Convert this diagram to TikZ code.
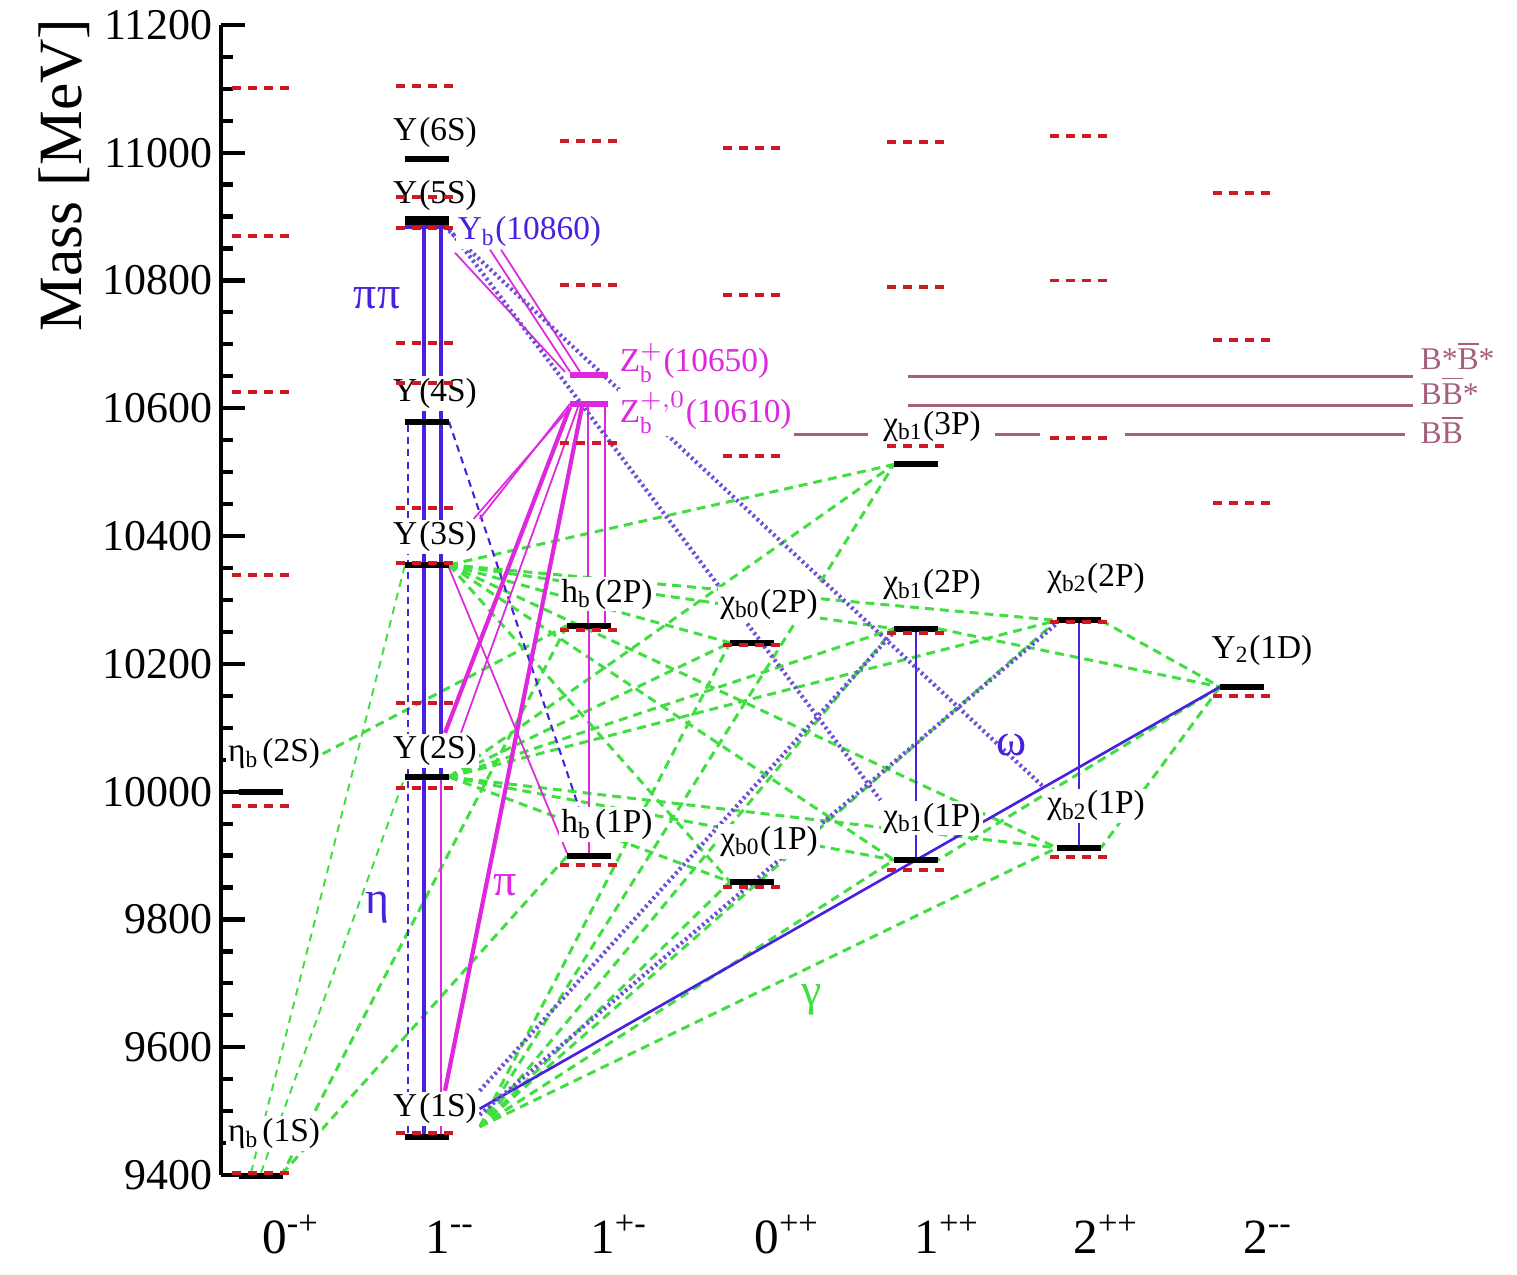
\documentclass[tikz,border=0pt]{standalone}
\usepackage{fontspec}
\setmainfont{Liberation Serif}
\usetikzlibrary{positioning, calc, backgrounds}
\definecolor{gamgreen}{RGB}{64,222,64}
\definecolor{ppblue}{RGB}{72,32,222}
\definecolor{pimag}{RGB}{222,40,222}
\definecolor{omviolet}{RGB}{108,78,215}
\definecolor{thrmauve}{RGB}{165,95,125}
\definecolor{theored}{RGB}{205,25,35}

\begin{document}
\begin{tikzpicture}[x=0.1mm, y=0.0639mm,
    expt/.style={fill=black, minimum width=4.4mm, minimum height=1.7pt, inner sep=0pt, outer sep=0pt},
    zbar/.style={fill=pimag, minimum width=3.8mm, minimum height=1.8pt, inner sep=0pt, outer sep=0pt},
    theo/.style={theored, line width=1.1pt, dash pattern=on 2.55pt off 2pt},
    lab/.style={font=\fontsize{9.5}{11}\selectfont, inner sep=0.6pt, fill=white},
    thrlab/.style={font=\fontsize{9}{10}\selectfont, text=thrmauve, inner sep=0pt, anchor=west},
    ticklab/.style={font=\fontsize{12.5}{14}\selectfont, anchor=east, inner sep=0pt},
    trlab/.style={font=\fontsize{13}{15}\selectfont, inner sep=0pt},
    axisline/.style={line width=1.2pt},
    gam/.style={gamgreen, line width=0.85pt, dash pattern=on 2.55pt off 1.7pt},
    gamthin/.style={gamgreen, line width=0.55pt, dash pattern=on 2.2pt off 1.8pt},
    pipi/.style={ppblue, line width=1.15pt},
    pipithin/.style={ppblue, line width=0.75pt},
    etadash/.style={ppblue, line width=0.6pt, dash pattern=on 2pt off 1.5pt},
    pion/.style={pimag, line width=0.5pt},
    pionthick/.style={pimag, line width=1.2pt},
    omdot/.style={omviolet, line width=1.2pt, dash pattern=on 0.7pt off 0.9pt},
    thr/.style={thrmauve, line width=0.9pt}]

    \useasboundingbox (0,9245) rectangle (1517,11239);

    \draw[axisline] (221,11200) -- (221,9400);
    \foreach \m in {9450,9500,...,11150}
        \draw[axisline] (221,\m) -- (233,\m);
    \foreach \m in {9400,9600,...,11200} {
        \draw[axisline] (221,\m) -- (245,\m);
        \node[ticklab] (tick\m) at (213,\m) {\m};
    }
    \node[rotate=90, font=\fontsize{17.5}{20}\selectfont] (ylab) at (64,10965) {Mass [MeV]};

    \foreach \x/\t [count=\i] in {291/0\textsuperscript{-+}, 450/1\textsuperscript{-{}-}, 619/1\textsuperscript{+-},
        787/0\textsuperscript{++}, 947/1\textsuperscript{++}, 1106/2\textsuperscript{++}, 1268/2\textsuperscript{-{}-}}
        \node[anchor=base, font=\fontsize{14}{16}\selectfont] (jpc\i) at (\x,9278) {\t};

    \node[expt] (etab1S) at (261,9399) {};
    \node[expt] (etab2S) at (261,9999) {};
    \node[expt] (U1S) at (427,9460) {};
    \node[expt] (U2S) at (427,10023) {};
    \node[expt] (U3S) at (427,10355) {};
    \node[expt] (U4S) at (427,10579) {};
    \node[expt, minimum height=2.6pt] (U5S) at (427,10893) {};
    \node[expt] (U6S) at (427,10990) {};
    \node[expt, fill=ppblue, minimum height=1.2pt] (Yb) at (427,10884) {};
    \node[expt] (hb1P) at (589,9899) {};
    \node[expt] (hb2P) at (589,10260) {};
    \node[expt] (chib01P) at (752,9859) {};
    \node[expt] (chib02P) at (752,10233) {};
    \node[expt] (chib11P) at (916,9893) {};
    \node[expt] (chib12P) at (916,10255) {};
    \node[expt] (chib13P) at (916,10512) {};
    \node[expt] (chib21P) at (1079,9912) {};
    \node[expt] (chib22P) at (1079,10268) {};
    \node[expt] (U1D) at (1242,10164) {};
    \node[zbar] (Zb10650) at (589,10652) {};
    \node[zbar] (Zb10610) at (589,10607) {};

    \node[lab, above=6pt of etab1S, xshift=1.3mm] (letab1S) {η$_{\mathrm{b}}$\kern1pt(1S)};
    \node[lab, above=5pt of etab2S, xshift=1.3mm] (letab2S) {η$_{\mathrm{b}}$\kern1pt(2S)};
    \node[lab, above=2pt of U1S, xshift=0.8mm] (lU1S) {Υ\kern0.6pt(1S)};
    \node[lab, above=1.5pt of U2S, xshift=0.8mm] (lU2S) {Υ\kern0.6pt(2S)};
    \node[lab, above=2pt of U3S, xshift=0.8mm] (lU3S) {Υ\kern0.6pt(3S)};
    \node[lab, above=2pt of U4S, xshift=0.8mm] (lU4S) {Υ\kern0.6pt(4S)};
    \node[lab, above=1pt of U5S, xshift=0.8mm] (lU5S) {Υ\kern0.6pt(5S)};
    \node[lab, above=1.5pt of U6S, xshift=0.8mm] (lU6S) {Υ\kern0.6pt(6S)};
    \node[lab, text=ppblue, right=0.6mm of Yb, yshift=-0.5mm] (lYb) {Υ$_{\mathrm{b}}$(10860)};
    \node[lab, above=3pt of hb1P, xshift=1.8mm] (lhb1P) {h$_{\mathrm{b}}$\kern1pt(1P)};
    \node[lab, above=3pt of hb2P, xshift=1.8mm] (lhb2P) {h$_{\mathrm{b}}$\kern1pt(2P)};
    \node[lab, above=5.5pt of chib01P, xshift=1.7mm] (lchib01P) {χ$_{\mathrm{b0}}$(1P)};
    \node[lab, above=5pt of chib02P, xshift=1.7mm] (lchib02P) {χ$_{\mathrm{b0}}$(2P)};
    \node[lab, above=6pt of chib11P, xshift=1.6mm] (lchib11P) {χ$_{\mathrm{b1}}$(1P)};
    \node[lab, above=6.5pt of chib12P, xshift=1.6mm] (lchib12P) {χ$_{\mathrm{b1}}$(2P)};
    \node[lab, above=5pt of chib13P, xshift=1.6mm] (lchib13P) {χ$_{\mathrm{b1}}$(3P)};
    \node[lab, above=6pt of chib21P, xshift=1.7mm] (lchib21P) {χ$_{\mathrm{b2}}$(1P)};
    \node[lab, above=6pt of chib22P, xshift=1.7mm] (lchib22P) {χ$_{\mathrm{b2}}$(2P)};
    \node[lab, above=4.5pt of U1D, xshift=2mm] (lU1D) {Υ$_{\mathrm{2}}$(1D)};
    \node[lab, text=pimag, right=0.9mm of Zb10650, yshift=1.2mm] (lZb10650) {Z$_{\mathrm{b}}^{+}$(10650)};
    \node[lab, text=pimag, right=0.9mm of Zb10610, yshift=-0.9mm] (lZb10610) {Z$_{\mathrm{b}}^{+,0}$(10610)};

    \foreach \x/\m in {261/11101, 261/10869, 261/10625, 261/10339, 261/9977, 261/9403,
        425/11104, 425/10930, 425/10882, 425/10702, 425/10639, 425/10444, 425/10358, 425/10139, 425/10006, 425/9466,
        589/11018, 589/10793, 589/10546, 589/10253, 589/9885,
        752/11007, 752/10777, 752/10525, 752/10229, 752/9851,
        916/11017, 916/10790, 916/10541, 916/10248, 916/9877,
        1079/11026, 1079/10800, 1079/10553, 1079/10265, 1079/9898,
        1242/10937, 1242/10707, 1242/10452, 1242/10150}
        \draw[theo] (\x-29,\m) -- (\x+29,\m);

    \node[thrlab] (lBsBs) at (1420,10682) {B*$\overline{\mathrm{B}}$*};
    \node[thrlab] (lBBs) at (1420,10628) {B$\overline{\mathrm{B}}$*};
    \node[thrlab] (lBB) at (1420,10566) {B$\overline{\mathrm{B}}$};

    \node[trlab, text=ppblue] (lpipi) at (377,10772) {ππ};
    \node[trlab, text=ppblue] (leta) at (377,9818) {η};
    \node[trlab, text=pimag] (lpi) at (505,9854) {π};
    \node[trlab, text=ppblue] (lomega) at (1012,10073) {ω};
    \node[trlab, text=gamgreen] (lgamma) at (812,9674) {γ};

    \begin{scope}[on background layer]
        \draw[thr] (753,10559) -- (868,10559);
        \draw[thr] (995,10559) -- (1040,10559);
        \draw[thr] (1125,10559) -- (1405,10559);
        \draw[thr] (908,10604) -- (1413,10604);
        \draw[thr] (908,10650) -- (1413,10650);

        \foreach \a/\b in {lU1S.south east/chib01P.west, lU1S.south east/chib11P.west, lU1S.south east/chib21P.west,
            lU1S.south east/chib02P.west, lU1S.south east/chib12P.west, lU1S.south east/chib22P.west,
            lU1S.south east/chib13P.west,
            U2S.east/chib01P.west, U2S.east/chib11P.west, U2S.east/chib21P.west,
            U2S.east/chib02P.west, U2S.east/chib12P.west, U2S.east/chib22P.west, U2S.east/chib13P.west,
            U3S.east/chib01P.west, U3S.east/chib11P.west, U3S.east/chib21P.west,
            U3S.east/chib02P.west, U3S.east/chib12P.west, U3S.east/chib22P.west, U3S.east/chib13P.west,
            chib12P.east/U1D.west, chib22P.east/U1D.west, U1D.west/chib11P.east, U1D.west/chib21P.east,
            hb1P.west/etab1S.north east, hb2P.west/etab1S.north east, letab2S.east/hb2P.west}
            \draw[gam] (\a) -- (\b);
        \draw[gamthin] (etab1S.north) -- (U2S.west);
        \draw[gamthin] ([xshift=-1mm]etab1S.north) -- (U3S.west);

        \draw[pipi] ([xshift=-0.3mm]U5S.south) -- ([xshift=-0.3mm]U1S.north);
        \draw[pipi] ([xshift=1.4mm]U5S.south) -- ([xshift=1.4mm]U2S.north);
        \draw[pion] ([xshift=1.4mm]U2S.south) -- ([xshift=1.4mm]U1S.north);
        \draw[etadash] ([xshift=-1.9mm]U4S.south) -- ([xshift=-1.9mm]U1S.north);
        \draw[etadash] (U4S.east) -- ([xshift=2mm]lhb1P.north west);
        \draw[pipithin] (lU1S.east) -- (U1D.west);
        \draw[pipithin] (chib12P.south) -- (chib11P.north);
        \draw[pipithin] (chib22P.south) -- (chib21P.north);

        \draw[pion] (Zb10610.west) -- (lU3S.north east);
        \draw[pion] ([yshift=-0.4mm]Zb10610.west) -- ([xshift=-0.6mm]lU3S.north east);
        \draw[pionthick] (Zb10610.south west) -- ([xshift=1mm]lU2S.north);
        \draw[pion] ([xshift=0.8mm]Zb10610.south west) -- ([xshift=2.6mm]lU2S.north);
        \draw[pionthick] ([xshift=1.2mm]Zb10610.south west) -- ([xshift=1mm]lU1S.north);
        \draw[pion] ([xshift=-0.1mm]Zb10610.south) -- ([xshift=-0.1mm]hb2P.north);
        \draw[pion] ([xshift=1.6mm]Zb10610.south) -- ([xshift=1.6mm]hb2P.north);
        \draw[pion] (hb2P.south) -- (hb1P.north);
        \draw[pion] (U3S.south east) -- (hb1P.north west);
        \draw[pion] ([xshift=3.5mm]lYb.south west) -- (Zb10650.north west);
        \draw[pion] ([xshift=4.6mm]lYb.south west) -- ([xshift=1mm]Zb10650.north west);
        \draw[pion] ([xshift=0.6mm, yshift=-2.6mm]Yb.east) -- ([xshift=-0.5mm]Zb10650.north west);

        \draw[omdot] (Yb.south east) -- (lchib11P.north west);
        \draw[omdot] ([yshift=-0.4mm]Yb.east) -- (lchib21P.north west);
        \draw[omdot] (lU1S.north east) -- (chib12P.south west);
        \draw[omdot] ([yshift=-0.6mm]lU1S.east) -- (chib22P.south west);
    \end{scope}
\end{tikzpicture}
\end{document}
